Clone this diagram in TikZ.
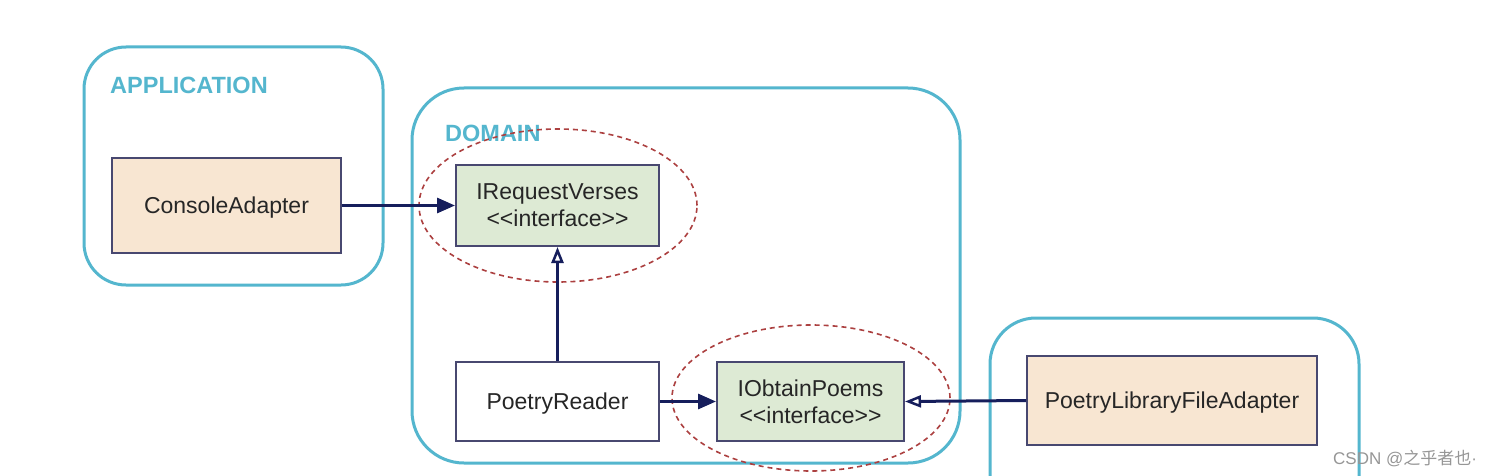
\documentclass[tikz,border=0pt]{standalone}
\usepackage{fontspec}
\setmainfont{Liberation Sans}
\newfontfamily\cjkfont{Noto Sans CJK SC}
\usetikzlibrary{arrows.meta,shapes.geometric}
\definecolor{layer}{RGB}{84,182,206}
\definecolor{boxline}{RGB}{72,72,112}
\definecolor{peach}{RGB}{248,230,210}
\definecolor{ifgreen}{RGB}{221,234,212}
\definecolor{navy}{RGB}{22,30,92}
\definecolor{dred}{RGB}{172,64,64}
\definecolor{wm}{RGB}{150,150,150}
\tikzset{
  layerbox/.style={draw=layer,line width=3pt,rounded corners=#1},
  layertitle/.style={text=layer,font=\fontsize{23.5}{26}\selectfont\bfseries,anchor=base west,inner sep=0pt},
  classbox/.style={draw=boxline,line width=2pt,font=\fontsize{23}{27}\selectfont,text=black!85,align=center,inner sep=0pt},
  oneline/.style={text depth=0pt},
  adapter/.style={classbox,fill=peach},
  iface/.style={classbox,fill=ifgreen},
  plain/.style={classbox,fill=white},
  grp/.style={draw=dred,line width=1.6pt,dash pattern=on 5pt off 4pt,ellipse,inner sep=0pt},
  uses/.style={draw=navy,line width=3pt,-{Triangle[length=18pt,width=15pt]}},
  realizes/.style={draw=navy,line width=3pt,-{Triangle[open,length=16pt,width=12pt,line width=2.5pt]}},
}
\begin{document}
\begin{tikzpicture}[x=1pt,y=-1pt]
\useasboundingbox (0,0) rectangle (1498,476);
\fill[white] (0,0) rectangle (1498,476);
% layers
\draw[layerbox=42pt] (84,47) rectangle (383,285);
\node[layertitle] (apptitle) at (110,94) {APPLICATION};
\draw[layerbox=52pt] (412,88) rectangle (960,463);
\node[layertitle] (domtitle) at (445,142) {DOMAIN};
\draw[layerbox=46pt] (1359,500) -- (1359,318) -- (990,318) -- (990,500);
% dashed groups
\node[grp,minimum width=278pt,minimum height=153pt] (g1) at (558,205.5) {};
\node[grp,minimum width=278pt,minimum height=146pt] (g2) at (811,398) {};
% classes
\node[adapter,oneline,minimum width=229pt,minimum height=95pt] (console) at (226.5,205.5) {ConsoleAdapter};
\node[iface,minimum width=203pt,minimum height=81pt] (irv) at (557.5,205.5) {IRequestVerses\\<{}<interface>{}>};
\node[plain,oneline,minimum width=203pt,minimum height=79pt] (reader) at (557.5,401.5) {PoetryReader};
\node[iface,minimum width=187pt,minimum height=79pt] (iop) at (810.5,401.5) {IObtainPoems\\<{}<interface>{}>};
\node[adapter,oneline,minimum width=290pt,minimum height=89pt] (lib) at (1172,400.5) {PoetryLibraryFileAdapter};
% connectors
\draw[uses] (console.east) -- (irv.west);
\draw[realizes] (reader.north) -- (irv.south);
\draw[uses] (reader.east) -- (iop.west);
\draw[realizes] (lib.west) -- (iop.east);
% watermark
\node[anchor=base west,inner sep=0pt,text=wm,font=\fontsize{17}{20}\selectfont] (wmark) at (1333,464) {CSDN @{\cjkfont 之乎者也}·};
\end{tikzpicture}
\end{document}
